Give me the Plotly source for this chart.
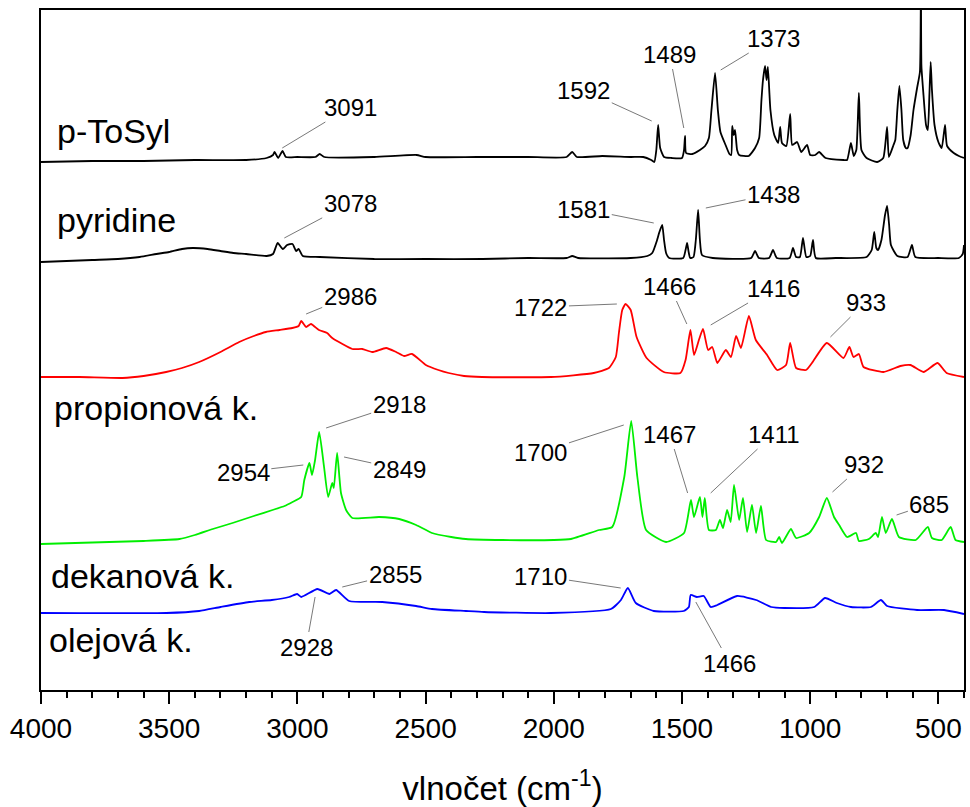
import plotly.graph_objects as go

# ---------------- data (wavenumber cm-1, intensity in arbitrary units) ----------------
tosyl_wn = [4000, 3800, 3600, 3400, 3200, 3120, 3095, 3089, 3075, 3058, 3045, 3000, 2930, 2913, 2895,
            2700, 2535, 2500, 2300, 2100, 1950, 1928, 1910, 1811, 1700, 1651, 1620, 1608, 1600, 1593,
            1585, 1570, 1540, 1500, 1492, 1488, 1484, 1460, 1430, 1410, 1395, 1385, 1371, 1360, 1350,
            1330, 1315, 1308, 1304, 1298, 1293, 1285, 1277, 1240, 1215, 1199, 1190, 1184, 1176, 1170,
            1165, 1155, 1140, 1125, 1117, 1110, 1093, 1078, 1070, 1051, 1035, 1012, 1000, 980, 965,
            940, 870, 856, 841, 830, 820, 810, 800, 780, 739, 715, 700, 693, 675, 668, 660, 652, 644,
            637, 627, 620, 608, 597, 583, 572, 568, 566, 558, 548, 541, 535, 530, 525, 515, 500, 487,
            474, 466, 440, 420, 400]
tosyl_int = [-2, -1, -1, 0, 0, 2, 5, 8, 2, 9, 3, 3, 3, 6, 3,
             3, 5, 3, 3, 3, 3, 8, 3, 4, 3, 3, 0, -2, 10, 35,
             12, 3, 2, 2, 10, 24, 7, 6, 10, 14, 22, 50, 87, 50, 28,
             15, 6, 5, 34, 25, 30, 10, 5, 4, 12, 22, 60, 80, 94, 80,
             93, 50, 25, 17, 33, 17, 14, 46, 15, 18, 8, 15, 5, 5, 8,
             2, 0, 0, 17, 4, 10, 67, 10, 2, -2, 2, 33, 3, 15, 20, 50, 74, 50,
             20, 12, 12, 25, 50, 72, 88, 180, 94, 65, 35, 30, 65, 98, 70, 35, 18, 12,
             35, 14, 7, 4, 2]

pyr_wn = [4000, 3800, 3700, 3615, 3550, 3500, 3450, 3408, 3350, 3300, 3250, 3200, 3120, 3095, 3077,
          3057, 3040, 3019, 3005, 2995, 2979, 2913, 2700, 2500, 2278, 2100, 1950, 1928, 1905, 1700,
          1635, 1616, 1597, 1588, 1577, 1570, 1562, 1550, 1495, 1486, 1480, 1474, 1468, 1455, 1446,
          1437, 1430, 1422, 1380, 1230, 1215, 1200, 1160, 1145, 1130, 1080, 1067, 1055, 1040, 1028,
          1015, 1000, 989, 978, 900, 780, 760, 750, 742, 735, 722, 708, 700, 692, 685, 660, 620,
          603, 590, 500, 420, 405, 400]
pyr_int = [-4, -2, -1, 1, 4, 6, 9, 10, 9, 7, 5, 4, 2, 4, 15,
           9, 13, 14, 7, 9, 2, 1, -1, -1, -1, 0, 0, 2, 0, 0,
           2, 5, 18, 26, 33, 18, 5, 0, 0, 8, 15, 6, 0, 1, 18,
           48, 18, 3, 0, 0, 7, 0, 0, 8, 0, 0, 10, 1, 1, 20,
           1, 2, 18, 0, 0, 1, 8, 26, 10, 8, 18, 43, 52, 33, 13, 2, 1,
           13, 1, 0, 0, 4, 13]

prop_wn = [4000, 3850, 3682, 3600, 3512, 3450, 3383, 3300, 3227, 3170, 3123, 3070, 3020, 2995, 2985,
           2966, 2947, 2916, 2884, 2864, 2786, 2747, 2708, 2654, 2615, 2584, 2553, 2499, 2450, 2410,
           2350, 2280, 2011, 1844, 1785, 1758, 1746, 1733, 1720, 1700, 1677, 1638, 1571, 1506, 1486,
           1467, 1453, 1434, 1418, 1398, 1382, 1362, 1329, 1309, 1289, 1270, 1239, 1212, 1168, 1129,
           1094, 1078, 1055, 1016, 993, 935, 870, 847, 831, 810, 792, 714, 648, 609, 558, 503, 468, 400]
prop_int = [0, 0, -1, 1, 5, 9, 15, 25, 35, 41, 45, 47, 49, 51, 56,
            50, 53, 47, 44, 39, 28, 28, 25, 29, 25, 21, 23, 12, 7, 4,
            1, 0, 0, 4, 9, 20, 44, 67, 73, 67, 40, 19, 5, 4, 17,
            47, 22, 37, 48, 27, 30, 14, 27, 20, 41, 29, 61, 37, 22, 7,
            12, 34, 9, 7, 14, 34, 19, 30, 20, 23, 10, 5, 11, 12, 5, 14, 4, 0]

dek_wn = [4000, 3600, 3460, 3400, 3330, 3253, 3170, 3097, 3050, 3019, 2985, 2973, 2953, 2943, 2931,
          2915, 2896, 2880, 2864, 2858, 2845, 2830, 2810, 2786, 2681, 2603, 2537, 2475, 2400, 2343,
          2200, 2000, 1933, 1823, 1772, 1725, 1698, 1674, 1640, 1562, 1492, 1465, 1453, 1430, 1420,
          1411, 1395, 1368, 1352, 1340, 1324, 1310, 1297, 1277, 1262, 1246, 1227, 1211, 1192, 1172,
          1133, 1121, 1110, 1075, 1055, 1004, 965, 935, 907, 887, 856, 821, 810, 771, 744, 735, 720,
          705, 681, 654, 588, 541, 525, 487, 452, 433, 400]
dek_int = [-3, 0, 2, 6, 12, 18, 25, 31, 35, 39, 44, 61, 78, 66, 81,
           109, 74, 44, 58, 53, 88, 48, 31, 23, 24, 22, 16, 8, 4, 2,
           1, 1, 2, 11, 14, 64, 120, 64, 11, -1, 8, 41, 24, 44, 24,
           43, 11, 11, 21, 13, 31, 19, 56, 21, 43, 9, 36, 8, 35, 1,
           -1, 4, -2, 12, 3, 8, 24, 43, 24, 16, 4, 8, 0, 2, 8, 4, 24,
           8, 22, 4, 1, 14, 3, 1, 14, 1, -1]

olej_wn = [4000, 3512, 3383, 3300, 3188, 3100, 3032, 3001, 2985, 2922, 2875, 2849, 2798, 2669, 2537,
           2475, 2343, 2272, 2011, 1777, 1738, 1711, 1680, 1610, 1493, 1473, 1466, 1442, 1415, 1388,
           1362, 1285, 1211, 1152, 1101, 984, 942, 896, 841, 763, 724, 700, 583, 478, 400]
olej_int = [0, 0, 2, 6, 11, 13, 16, 19, 16, 24, 19, 23, 12, 11, 7,
            4, 2, 1, 0, 4, 13, 25, 10, 2, 2, 6, 18, 16, 17, 6,
            8, 17, 13, 6, 5, 6, 15, 10, 6, 6, 13, 7, 3, 3, -1]

names = ["p-ToSyl", "pyridine", "propionová k.", "dekanová k.", "olejová k."]
offsets = [530, 432, 313, 149, 77]
colors = ["#000000", "#000000", "#ff0000", "#00ee00", "#0000ff"]
series_wn = [tosyl_wn, pyr_wn, prop_wn, dek_wn, olej_wn]
series_int = [tosyl_int, pyr_int, prop_int, dek_int, olej_int]

# series name label positions (wavenumber of left edge, height)
name_pos = [(3944, 559), (3944, 470), (3959, 282), (3967, 114), (3975, 50)]

# peak labels: text, text centre (wn, h), leader end (wn, h)
peak_labels = [
    ("3091", 2794, 583, 3059, 542),
    ("1592", 1883, 600, 1618, 569),
    ("1489", 1548, 636, 1493, 562),
    ("1373", 1143, 652, 1349, 620),
    ("3078", 2794, 487, 3051, 452),
    ("1581", 1883, 481, 1610, 467),
    ("1438", 1143, 496, 1407, 482),
    ("2986", 2794, 394, 2966, 376),
    ("1722", 2050, 383, 1754, 386),
    ("1466", 1548, 404, 1481, 366),
    ("1416", 1143, 402, 1388, 365),
    ("933", 784, 388, 921, 353),
    ("2918", 2603, 286, 2888, 262),
    ("2954", 3211, 218, 2977, 225),
    ("2849", 2603, 221, 2818, 233),
    ("1700", 2050, 238, 1727, 265),
    ("1467", 1548, 256, 1478, 197),
    ("1411", 1143, 256, 1388, 197),
    ("932", 792, 226, 913, 198),
    ("685", 535, 186, 663, 175),
    ("2855", 2619, 116, 2825, 103),
    ("2928", 2966, 43, 2931, 93),
    ("1710", 2050, 114, 1739, 102),
    ("1466", 1314, 27, 1446, 88),
]

FONT = "Liberation Sans, Arial, sans-serif"

fig = go.Figure()
for name, wn, inten, off, col in zip(names, series_wn, series_int, offsets, colors):
    fig.add_trace(go.Scatter(
        x=wn, y=[off + v for v in inten], mode="lines", name=name,
        line=dict(color=col, width=1.8, shape="spline", smoothing=0.5),
        showlegend=False, hoverinfo="skip"))

annotations = []
for name, (nx, ny) in zip(names, name_pos):
    annotations.append(dict(x=nx, y=ny, xref="x", yref="y", text=name, showarrow=False,
                            xanchor="left", yanchor="middle",
                            font=dict(family=FONT, size=34, color="black")))
for txt, tx, ty, px, py in peak_labels:
    annotations.append(dict(x=px, y=py, xref="x", yref="y", ax=tx, ay=ty, axref="x", ayref="y",
                            text=txt, showarrow=True, arrowhead=0, arrowwidth=0.8,
                            arrowcolor="#555555", standoff=0, startstandoff=0,
                            font=dict(family=FONT, size=24, color="black")))

fig.update_layout(
    width=970, height=807,
    margin=dict(l=41, r=4, t=10, b=117),
    paper_bgcolor="white", plot_bgcolor="white",
    font=dict(family=FONT, color="black"),
    annotations=annotations,
    xaxis=dict(range=[4000, 400], showgrid=False, zeroline=False,
               showline=True, linecolor="black", linewidth=2, mirror=True,
               ticks="outside", ticklen=12, tickwidth=2, tickcolor="black",
               tick0=0, dtick=500, tickfont=dict(family=FONT, size=28, color="black"),
               minor=dict(ticks="outside", ticklen=6, tickwidth=2, tickcolor="black", dtick=100),
               title=dict(text="vlnočet (cm<sup>-1</sup>)", font=dict(family=FONT, size=33, color="black"),
                          standoff=34)),
    yaxis=dict(range=[0, 680], showgrid=False, zeroline=False, showticklabels=False,
               showline=True, linecolor="black", linewidth=2, mirror=True, ticks=""),
)

fig.write_html("out.html")
